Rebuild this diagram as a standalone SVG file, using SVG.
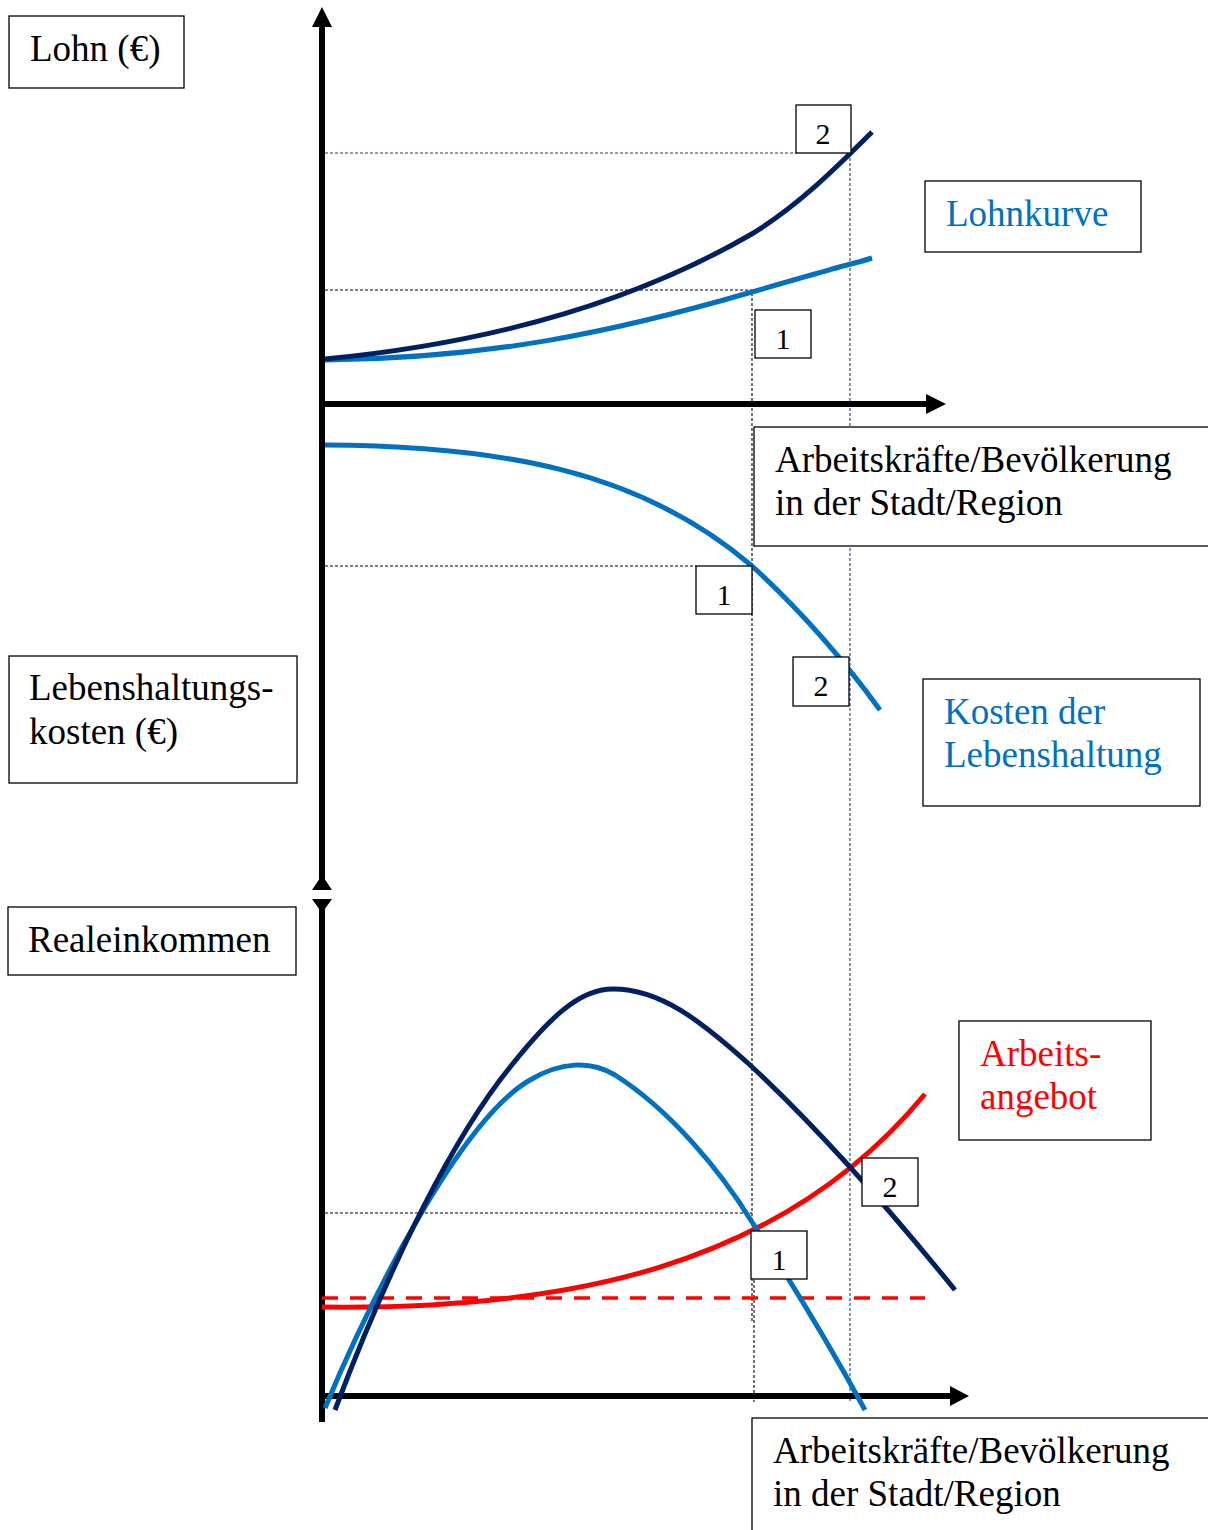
<svg xmlns="http://www.w3.org/2000/svg" width="1208" height="1530" viewBox="0 0 1208 1530">
<style>
.box{fill:#fff;stroke:#000;stroke-width:1.3}
.t{font-family:"Liberation Serif","Times New Roman",serif;font-size:37px;fill:#000}
.num{font-family:"Liberation Serif","Times New Roman",serif;font-size:30px;fill:#000;text-anchor:middle}
.blue{fill:#0070C0}
.red{fill:#FF0000}
.ax{stroke:#000;stroke-width:6;fill:none}
.dk{stroke:#000;stroke-width:1.1;stroke-dasharray:3 2;fill:none}
.dn{stroke:#1F3A7A;stroke-width:1.1;stroke-dasharray:3 2;fill:none}
.cn{stroke:#002060;stroke-width:5;fill:none}
.cb{stroke:#0070C0;stroke-width:5;fill:none}
.cr{stroke:#FF0000;stroke-width:5;fill:none}
</style>
<g id="guides">
<path class="dn" d="M325,153 H796"/>
<path class="dn" d="M850,153 V1402"/>
<path class="dk" d="M325,290 H752 V1322"/>
<path class="dk" d="M754,1280 V1402"/>
<path class="dk" d="M325,566 H696"/>
<path class="dk" d="M325,1213 H752"/>
</g>
<g id="axes">
<path class="ax" d="M322,25 V890"/>
<path class="ax" d="M322,899 V1422"/>
<path class="ax" d="M319,404 H928"/>
<path class="ax" d="M319,1396 H951"/>
<polygon points="322,7 332,27 312,27"/>
<polygon points="322,875 332,890 312,890"/>
<polygon points="322,913 332,899 312,899"/>
<polygon points="946,404 926,394 926,414"/>
<polygon points="969,1396 950,1386 950,1406"/>
</g>
<g id="connectors">
<path class="cb" d="M325,360 C490,358 610,333 752,292 S840,268 872,258"/>
<path class="cn" d="M325,359 C470,345 620,310 750,235 C795,208 832,172 872,132"/>
<path class="cb" d="M325,445 C500,446 640,470 752,566 C800,610 840,655 880,710"/>
<path class="cr" d="M322,1307 C560,1310 780,1270 925,1094"/>
<path d="M322,1298 H925" stroke="#FF0000" stroke-width="3.5" stroke-dasharray="16 12" fill="none"/>
<path class="cb" d="M325,1408 C370,1300 460,1120 530,1080 C560,1062 590,1060 615,1075 C670,1110 720,1170 752,1222 C800,1295 835,1355 865,1410"/>
<path class="cn" d="M335,1410 C380,1290 440,1160 500,1080 C550,1015 580,989 613,989 C660,989 700,1020 750,1065 C820,1130 890,1210 955,1290"/>
</g>
<g id="lohn"><rect class="box" x="9" y="16" width="175" height="72"/><text class="t" x="30" y="61">Lohn (€)</text></g>
<g id="lohnkurve"><rect class="box" x="925" y="181" width="216" height="71"/><text class="t blue" x="946" y="226">Lohnkurve</text></g>
<g id="top2"><rect class="box" x="796" y="105" width="55" height="48"/><text class="num" x="823" y="144">2</text></g>
<g id="top1"><rect class="box" x="755" y="310" width="56" height="48"/><text class="num" x="783" y="349">1</text></g>
<g id="xlabel1"><rect class="box" x="754" y="427" width="470" height="119"/><text class="t" x="775" y="472">Arbeitskräfte/Bevölkerung</text><text class="t" x="775" y="515">in der Stadt/Region</text></g>
<g id="mid1"><rect class="box" x="696" y="566" width="56" height="48"/><text class="num" x="724" y="605">1</text></g>
<g id="mid2"><rect class="box" x="793" y="657" width="56" height="49"/><text class="num" x="821" y="696">2</text></g>
<g id="kosten"><rect class="box" x="923" y="679" width="277" height="127"/><text class="t blue" x="944" y="724">Kosten der</text><text class="t blue" x="944" y="767">Lebenshaltung</text></g>
<g id="lebenshaltungskosten"><rect class="box" x="9" y="656" width="288" height="127"/><text class="t" x="29" y="700">Lebenshaltungs-</text><text class="t" x="29" y="744">kosten (€)</text></g>
<g id="realeinkommen"><rect class="box" x="8" y="907" width="288" height="68"/><text class="t" x="28" y="952">Realeinkommen</text></g>
<g id="arbeitsangebot"><rect class="box" x="959" y="1021" width="192" height="119"/><text class="t red" x="980" y="1066">Arbeits-</text><text class="t red" x="980" y="1109">angebot</text></g>
<g id="bot2"><rect class="box" x="862" y="1158" width="56" height="48"/><text class="num" x="890" y="1197">2</text></g>
<g id="bot1"><rect class="box" x="751" y="1231" width="56" height="48"/><text class="num" x="779" y="1270">1</text></g>
<g id="xlabel2"><rect class="box" x="752" y="1418" width="470" height="130"/><text class="t" x="773" y="1463">Arbeitskräfte/Bevölkerung</text><text class="t" x="773" y="1506">in der Stadt/Region</text></g>
</svg>
